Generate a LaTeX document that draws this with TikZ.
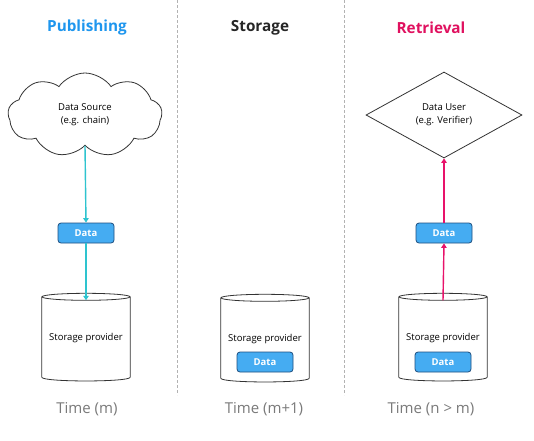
\documentclass[tikz,border=0pt]{standalone}
\usepackage{fontspec}
\setmainfont{Open Sans}
\usetikzlibrary{shapes.geometric,shapes.symbols,arrows.meta}
\definecolor{pubblue}{HTML}{1E96EE}
\definecolor{retpink}{HTML}{E0115F}
\definecolor{tealarr}{HTML}{2EC4CF}
\definecolor{pinkarr}{HTML}{E8126A}
\definecolor{datafill}{HTML}{45ACF2}
\definecolor{databorder}{HTML}{1E4F80}
\definecolor{timegray}{HTML}{7A7A7A}
\definecolor{outline}{HTML}{333333}
\tikzset{
  title/.style={font=\bfseries\fontsize{15.3}{18}\selectfont},
  timelabel/.style={font=\fontsize{15}{18}\selectfont, text=timegray},
  databox/.style={rectangle, rounded corners=3pt, draw=databorder, fill=datafill, line width=0.8pt,
    minimum width=56pt, minimum height=20pt, inner sep=0pt, text=white, font=\bfseries\fontsize{9.5}{11}\selectfont},
  store/.style={rectangle, minimum width=88pt, minimum height=80pt, inner sep=0pt},
  storeline/.style={draw=outline, line width=0.8pt},
  body/.style={font=\fontsize{9.5}{13}\selectfont, align=center},
  sep/.style={densely dashed, draw=gray!60, line width=0.5pt},
  tealflow/.style={draw=tealarr, line width=1.4pt, -{Triangle[length=4.5pt,width=5.5pt]}},
  pinkflow/.style={draw=pinkarr, line width=1.4pt, -{Triangle[length=4.5pt,width=5.5pt]}},
}
\newcommand{\drawstore}[1]{%
  \draw[storeline] (#1.north west) -- (#1.south west)
     .. controls +(0,5) and +(0,5) .. (#1.south east) -- (#1.north east);
  \draw[storeline] (#1.north) ellipse [x radius=44pt, y radius=3.5pt];
}
\begin{document}
\begin{tikzpicture}[x=1pt,y=-1pt]
\useasboundingbox[fill=white] (0,0) rectangle (534,440);
% separators
\coordinate (s1a) at (177,0); \coordinate (s1b) at (177,395);
\coordinate (s2a) at (344,0); \coordinate (s2b) at (344,395);
\draw[sep] (s1a) -- (s1b);
\draw[sep] (s2a) -- (s2b);
% titles
\node[title, text=pubblue] (t1) at (87,28) {Publishing};
\node[title, text=black!85] (t2) at (260,28) {Storage};
\node[title, text=retpink] (t3) at (431,28) {Retrieval};
% source cloud
\node[cloud, cloud puffs=9, cloud puff arc=110, cloud ignores aspect, draw=outline, line width=0.8pt,
  minimum width=154pt, minimum height=84pt, inner sep=0pt, body] (src) at (85,115) {Data Source\\(e.g. chain)};
% user diamond
\node[diamond, aspect=1.81, draw=outline, line width=0.8pt, minimum width=156pt, minimum height=86pt,
  inner sep=0pt, body] (usr) at (444,115) {Data User\\(e.g. Verifier)};
% data boxes
\node[databox] (d1) at (86,233) {Data};
\node[databox] (d3) at (444,233) {Data};
% storage cylinders
\node[store] (c1) at (86,337) {};
\node[store] (c2) at (265,338) {};
\node[store] (c3) at (443,337) {};
\drawstore{c1}
\drawstore{c2}
\drawstore{c3}
\node[body] (c1t) at (86,338) {Storage provider};
\node[body] (c2t) at (265,339) {Storage provider};
\node[body] (c3t) at (443,338) {Storage provider};
\node[databox] (d2) at (265,362) {Data};
\node[databox] (d4) at (443,362) {Data};
% arrows
\draw[tealflow] (src.south) -- (d1.north);
\draw[tealflow] (d1.south) -- ([yshift=-3.5pt]c1.north);
\draw[pinkflow] ([yshift=-3.5pt]c3.north) -- (d3.south);
\draw[pinkflow] (d3.north) -- (usr.south);
% time labels
\node[timelabel] (tm1) at (87,409) {Time (m)};
\node[timelabel] (tm2) at (264,409) {Time (m+1)};
\node[timelabel] (tm3) at (431,409) {Time (n > m)};
\end{tikzpicture}
\end{document}
